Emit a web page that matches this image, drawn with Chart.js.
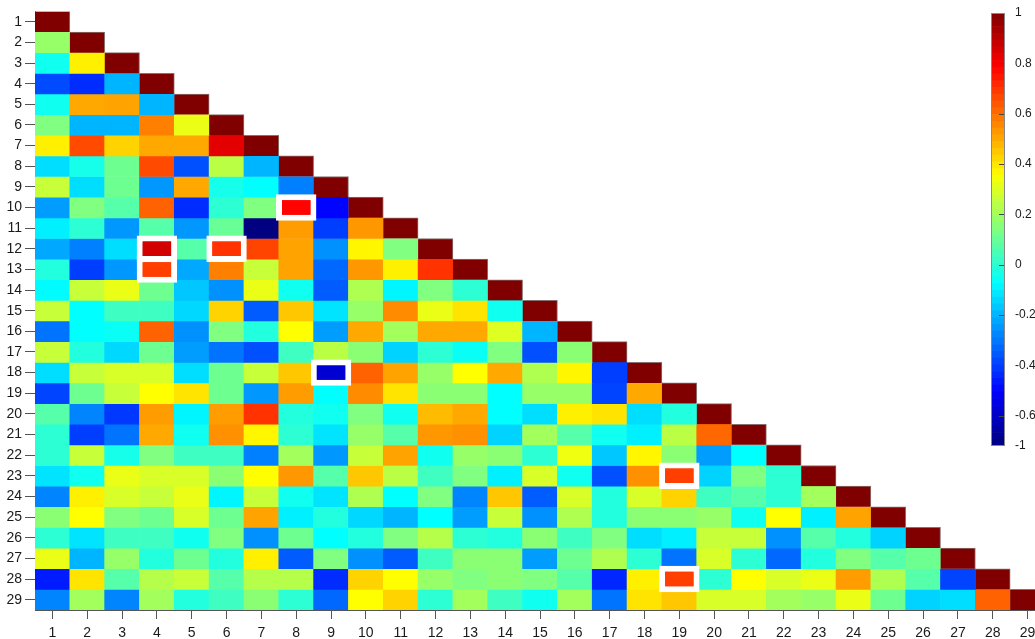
<!DOCTYPE html>
<html>
<head>
<meta charset="utf-8">
<script src="https://cdn.jsdelivr.net/npm/chart.js@4.4.0/dist/chart.umd.min.js"></script>
<style>
body { margin: 0; background: #fff; overflow: hidden; }
#wrap { position: absolute; left: 0; top: 0; width: 1046px; height: 639px; }
#cbwrap { position: absolute; left: 985px; top: 0; width: 50px; height: 460px; }
</style>
</head>
<body>
<div id="wrap"><canvas id="heat"></canvas></div>
<div id="cbwrap"><canvas id="cbar"></canvas></div>
<script>
// variable labels 1..29
const labels = ['1','2','3','4','5','6','7','8','9','10','11','12','13','14','15','16','17','18','19','20','21','22','23','24','25','26','27','28','29'];

// lower triangle of the correlation matrix, row by row (diagonal included)
const corr = [
  [1],
  [0.18, 1],
  [-0.05, 0.38, 1],
  [-0.38, -0.43, -0.2, 1],
  [-0.05, 0.5, 0.51, -0.2, 1],
  [0.14, -0.2, -0.2, 0.57, 0.32, 1],
  [0.38, 0.66, 0.43, 0.5, 0.5, 0.83, 1],
  [-0.13, -0.04, 0.11, 0.66, -0.37, 0.24, -0.2, 1],
  [0.26, -0.13, 0.11, -0.25, 0.5, -0.04, -0.075, -0.29, 1],
  [-0.24, 0.14, 0.07, 0.62, -0.43, 0.0, 0.14, 0.78, -0.5, 1],
  [-0.1, 0.0, -0.25, 0.07, -0.25, 0.1, -0.72, 0.52, -0.4, 0.53, 1],
  [-0.22, -0.29, -0.13, 0.86, 0.07, 0.7, 0.67, 0.51, -0.26, 0.37, 0.14, 1],
  [-0.02, -0.4, -0.25, 0.68, -0.22, 0.57, 0.26, 0.51, -0.33, 0.53, 0.38, 0.7, 1],
  [-0.08, 0.26, 0.32, 0.11, -0.17, -0.26, 0.32, -0.05, -0.35, 0.22, -0.09, 0.14, 0.0, 1],
  [0.26, -0.075, 0.03, 0.03, -0.14, 0.43, -0.35, 0.45, -0.12, 0.18, 0.55, 0.32, 0.4, -0.05, 1],
  [-0.31, -0.075, -0.06, 0.62, -0.26, 0.14, -0.02, 0.355, -0.24, 0.5, 0.2, 0.5, 0.5, 0.3, -0.2, 1],
  [0.26, -0.02, -0.14, 0.11, -0.24, -0.31, -0.37, 0.03, 0.24, 0.16, -0.15, 0.0, -0.06, 0.14, -0.37, 0.16, 1],
  [-0.13, 0.26, 0.29, 0.29, -0.13, 0.11, 0.26, 0.45, -0.58, 0.62, 0.51, 0.18, 0.355, 0.5, 0.22, 0.37, -0.4, 1],
  [-0.39, 0.11, 0.26, 0.355, 0.4, 0.11, -0.25, 0.52, -0.075, 0.55, 0.4, 0.16, 0.16, -0.075, 0.18, 0.18, -0.39, 0.5, 1],
  [0.07, -0.28, -0.41, 0.52, -0.09, 0.52, 0.7, -0.02, -0.05, 0.14, -0.05, 0.47, 0.5, -0.075, -0.13, 0.38, 0.4, -0.13, -0.02, 1],
  [0.0, -0.4, -0.31, 0.5, -0.05, 0.54, 0.37, 0.0, -0.12, 0.18, 0.07, 0.53, 0.54, -0.15, 0.2, 0.07, -0.05, -0.1, 0.24, 0.61, 1],
  [0.0, 0.26, -0.04, 0.14, 0.03, 0.03, -0.29, 0.2, -0.25, 0.26, 0.51, -0.05, 0.18, 0.16, 0.0, 0.33, -0.17, 0.37, 0.16, -0.24, -0.075, 1],
  [-0.12, -0.05, 0.32, 0.29, 0.29, 0.16, 0.355, 0.53, 0.07, 0.45, 0.24, 0.03, 0.14, -0.1, 0.29, -0.05, -0.37, 0.54, 0.68, -0.15, 0.14, 0.0, 1],
  [-0.28, 0.38, 0.29, 0.26, 0.32, -0.09, 0.26, -0.05, -0.12, 0.22, -0.075, 0.14, -0.28, 0.45, -0.35, 0.29, -0.02, 0.29, 0.43, 0.03, 0.07, 0.0, 0.2, 1],
  [0.16, 0.355, 0.14, 0.11, 0.29, 0.11, 0.51, -0.1, -0.02, -0.14, -0.2, -0.075, -0.24, 0.26, -0.26, 0.22, -0.02, 0.16, 0.16, 0.18, -0.05, 0.355, -0.1, 0.51, 1],
  [0.0, -0.12, 0.03, 0.03, -0.05, 0.14, -0.26, 0.11, -0.075, -0.02, 0.14, 0.23, 0.0, -0.02, 0.16, 0.03, 0.14, -0.13, -0.1, 0.26, 0.26, -0.26, 0.07, -0.02, -0.15, 1],
  [0.32, -0.2, 0.18, -0.02, 0.11, -0.02, 0.38, -0.35, 0.14, -0.26, -0.35, 0.03, 0.16, 0.16, -0.24, 0.11, 0.22, 0.0, -0.31, 0.29, 0.0, -0.33, -0.02, 0.14, 0.07, 0.11, 1],
  [-0.46, 0.4, 0.07, 0.23, 0.26, 0.07, 0.23, 0.23, -0.43, 0.43, 0.355, 0.18, 0.14, 0.16, 0.14, 0.07, -0.44, 0.38, 0.68, 0.0, 0.355, 0.29, 0.32, 0.52, 0.22, 0.07, -0.39, 1],
  [-0.28, 0.2, -0.28, 0.2, -0.02, 0.03, 0.16, 0.0, -0.33, 0.355, 0.43, 0.0, 0.2, 0.03, -0.05, 0.2, -0.31, 0.4, 0.45, 0.29, 0.29, 0.2, 0.18, 0.32, 0.11, -0.15, -0.13, 0.62, 1]
];

// boxed (significant) cells as [row, column]
const marked = [[10, 8], [12, 4], [13, 4], [12, 6], [18, 9], [23, 19], [28, 19]];

// colour scale range and colorbar ticks
const cMin = -0.72;
const cMax = 1;
const cbTicks = [1, 0.8, 0.6, 0.4, 0.2, 0, -0.2, -0.4, -0.6];
const cbMinLabel = '-1';

const FONT = "'Liberation Sans', Arial, sans-serif";
const TXT = '#1a1a1a';

// jet colormap
function jet(v) {
    let t = (v - cMin) / (cMax - cMin);
    t = Math.max(0, Math.min(1, t));
    const cl = x => Math.round(255 * Math.max(0, Math.min(1, x)));
    const r = cl(Math.min(4 * t - 1.5, -4 * t + 4.5));
    const g = cl(Math.min(4 * t - 0.5, -4 * t + 3.5));
    const b = cl(Math.min(4 * t + 0.5, -4 * t + 2.5));
    return `rgb(${r},${g},${b})`;
}

// one floating-bar dataset per row, bars overlap in each column
const datasets = corr.map((row, i) => {
    const r = i + 1;
    return {
        data: labels.map((_, j) => j < row.length ? [r - 0.5, r + 0.5] : null),
        backgroundColor: labels.map((_, j) => j < row.length ? jet(row[j]) : 'transparent'),
        // thin grey edge along the staircase of the diagonal
        borderColor: '#8a7070',
        borderWidth: labels.map((_, j) => j === row.length - 1 ? { top: 1, right: 1, bottom: 0, left: 0 } : 0),
        borderSkipped: false,
        barPercentage: 1,
        categoryPercentage: 1
    };
});

// white framed boxes drawn on top
marked.forEach(([r, c]) => {
    datasets.push({
        data: labels.map((_, j) => j === c - 1 ? [r - 0.64, r + 0.64] : null),
        backgroundColor: jet(corr[r - 1][c - 1]),
        borderColor: '#fff',
        borderWidth: 6,
        borderSkipped: false,
        barPercentage: 1.16,
        categoryPercentage: 1,
        order: -1
    });
});

const heat = new Chart(document.getElementById('heat'), {
    type: 'bar',
    data: { labels: labels, datasets: datasets },
    options: {
        responsive: true,
        maintainAspectRatio: false,
        animation: false,
        layout: { padding: { top: 9.6, right: 1, left: 0, bottom: 0 } },
        plugins: { legend: { display: false }, tooltip: { enabled: false } },
        scales: {
            x: {
                stacked: true,
                offset: true,
                grid: { offset: false, drawOnChartArea: false, tickLength: 9, tickColor: '#555' },
                border: { display: true, color: '#555' },
                ticks: { autoSkip: false, maxRotation: 0, padding: 6, color: TXT, font: { family: FONT, size: 14 } },
                afterFit: s => { s.height = 29; }
            },
            y: {
                type: 'linear',
                reverse: true,
                min: 0.5,
                max: 29.5,
                grid: { drawOnChartArea: false, tickLength: 10, tickColor: '#555' },
                border: { display: true, color: '#555' },
                ticks: { autoSkip: false, padding: 3, color: TXT, font: { family: FONT, size: 14 } },
                afterBuildTicks: s => { s.ticks = labels.map((_, i) => ({ value: i + 1 })); },
                afterFit: s => { s.width = 35; }
            }
        }
    }
});

// colorbar: 64 jet bands stacked as floating bars
const nBands = 64;
const cbSets = [];
for (let k = 0; k < nBands; k++) {
    const lo = cMin + (cMax - cMin) * k / nBands;
    const hi = cMin + (cMax - cMin) * (k + 1) / nBands;
    cbSets.push({
        data: [[lo, hi]],
        backgroundColor: jet((lo + hi) / 2),
        borderWidth: 0,
        barPercentage: 1,
        categoryPercentage: 1
    });
}

const cbFrame = {
    id: 'cbFrame',
    afterDraw(chart) {
        const { ctx, chartArea: a } = chart;
        const ys = chart.scales.y;
        ctx.save();
        ctx.strokeStyle = '#444';
        ctx.lineWidth = 1;
        cbTicks.forEach(v => {
            if (v >= cMax) return;
            const py = Math.round(ys.getPixelForValue(v)) + 0.5;
            ctx.beginPath();
            ctx.moveTo(a.right - 6, py);
            ctx.lineTo(a.right, py);
            ctx.stroke();
        });
        ctx.strokeStyle = '#888';
        ctx.strokeRect(a.left + 0.5, a.top + 0.5, a.right - a.left - 1, a.bottom - a.top - 1);
        ctx.restore();
    }
};

const cbar = new Chart(document.getElementById('cbar'), {
    type: 'bar',
    data: { labels: [''], datasets: cbSets },
    options: {
        responsive: true,
        maintainAspectRatio: false,
        animation: false,
        layout: { padding: { top: 13, bottom: 14, left: 6, right: 0 } },
        plugins: { legend: { display: false }, tooltip: { enabled: false } },
        scales: {
            x: { display: false, stacked: true },
            y: {
                position: 'right',
                min: cMin,
                max: cMax,
                grid: { display: false },
                border: { display: false },
                ticks: {
                    padding: 2,
                    color: TXT,
                    font: { family: FONT, size: 12 },
                    callback: v => v === cMin ? cbMinLabel : String(v)
                },
                afterBuildTicks: s => { s.ticks = cbTicks.concat([cMin]).map(v => ({ value: v })); },
                afterFit: s => { s.width = 30; }
            }
        }
    },
    plugins: [cbFrame]
});
</script>
</body>
</html>
